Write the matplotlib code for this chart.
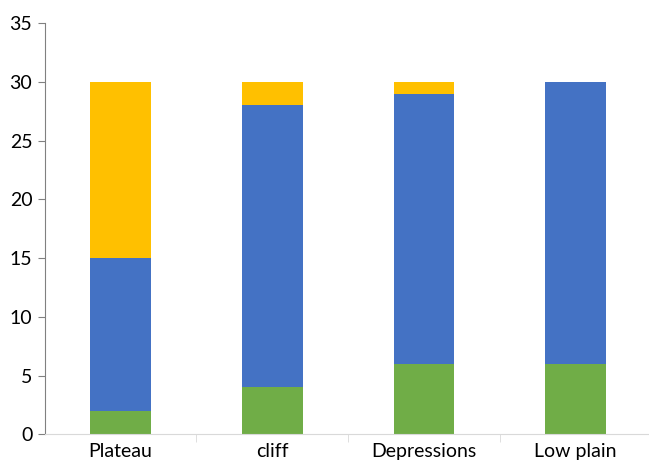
import matplotlib.pyplot as plt
import numpy as np

# Landform categories and the three stacked series (bottom to top)
categories = ['Plateau', 'cliff', 'Depressions', 'Low plain']
green_vals = [2, 4, 6, 6]
blue_vals = [13, 24, 23, 24]
yellow_vals = [15, 2, 1, 0]

plt.rcParams['font.family'] = ['Lato', 'DejaVu Sans']

fig = plt.figure(figsize=(6.49, 4.62), dpi=100)
ax = fig.add_axes([0.069, 0.060, 0.935, 0.890])

x = np.arange(len(categories))
green = np.array(green_vals)
blue = np.array(blue_vals)
yellow = np.array(yellow_vals)

ax.bar(x, green, width=0.4, color='#70AD47')
ax.bar(x, blue, width=0.4, bottom=green, color='#4472C4')
ax.bar(x, yellow, width=0.4, bottom=green + blue, color='#FFC000')

ax.set_xlim(-0.5, len(categories) - 0.5)
ax.set_ylim(0, 35)
ax.set_yticks(range(0, 36, 5))
ax.tick_params(axis='y', labelsize=14, color='#808080', length=5, pad=4)

# category labels centred, separator ticks between categories
ax.set_xticks(x)
ax.set_xticklabels(categories, fontsize=14)
ax.tick_params(axis='x', length=0, pad=6)
ax.set_xticks(np.arange(0.5, len(categories) - 0.5, 1), minor=True)
ax.tick_params(axis='x', which='minor', length=6, color='#D9D9D9')

for side in ['top', 'right']:
    ax.spines[side].set_visible(False)
ax.spines['left'].set_color('#808080')
ax.spines['bottom'].set_color('#D9D9D9')

fig.savefig('out.png', dpi=100)
